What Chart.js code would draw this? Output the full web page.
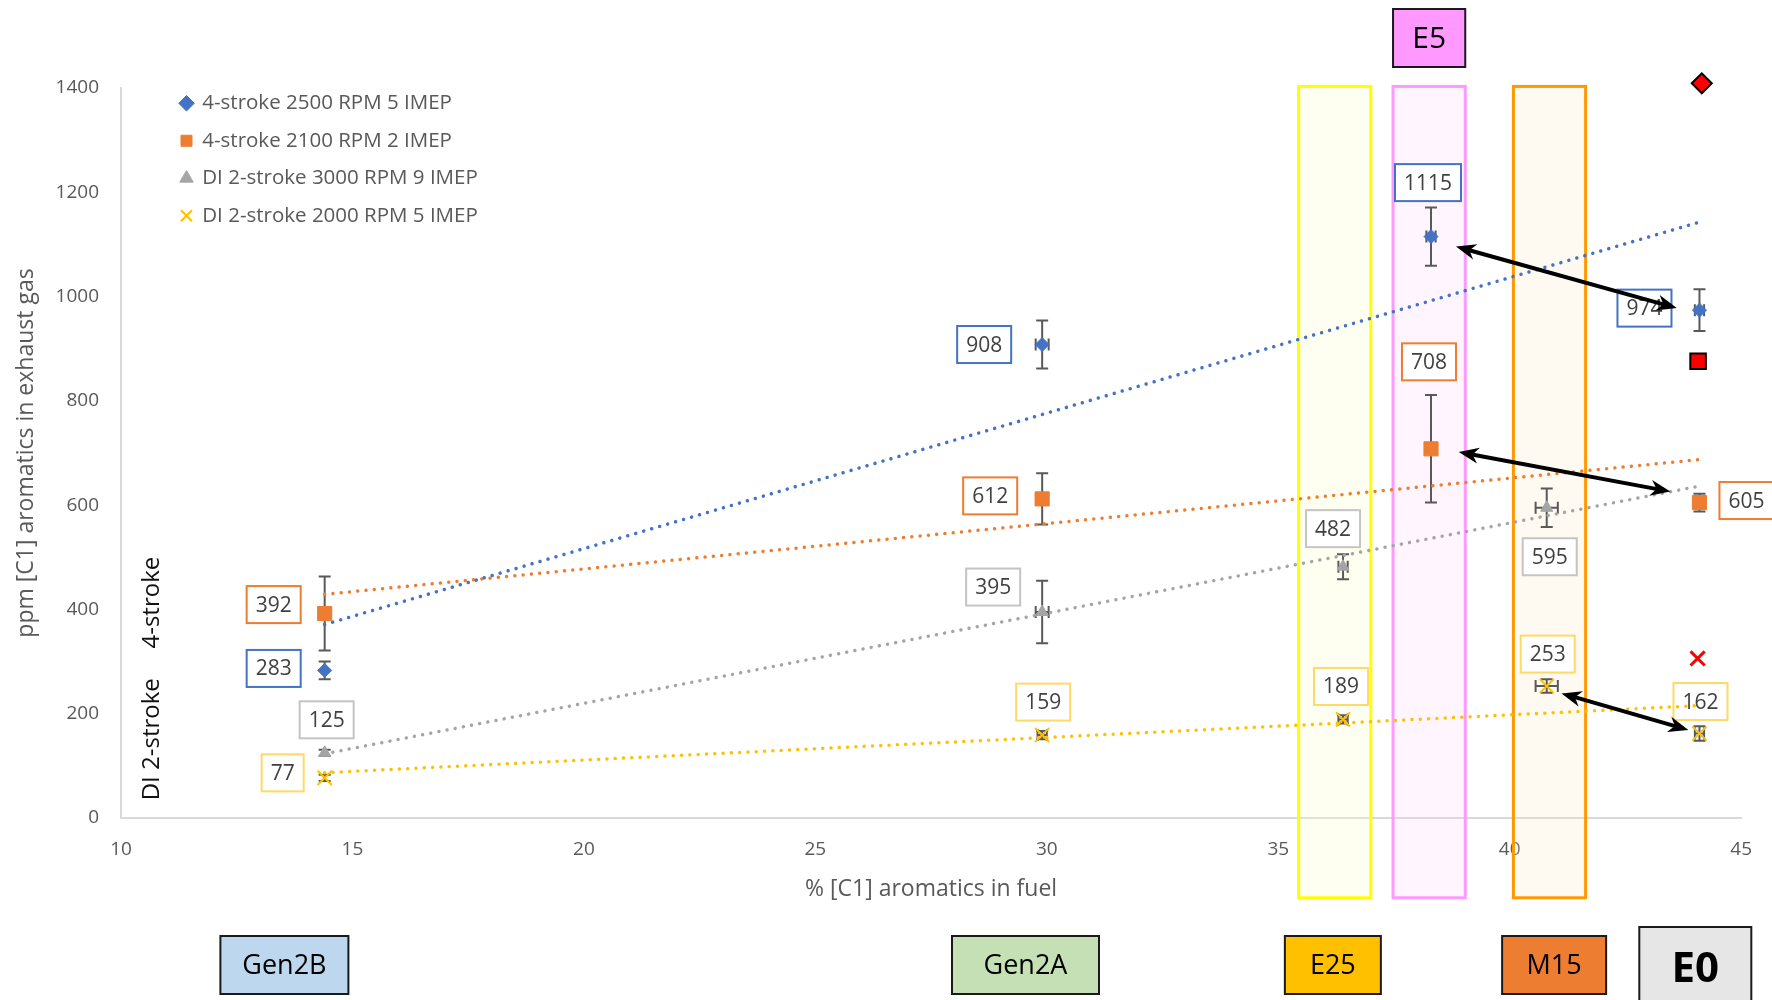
<!DOCTYPE html>
<html>
<head>
<meta charset="utf-8">
<script src="https://cdn.jsdelivr.net/npm/chart.js@4.4.1/dist/chart.umd.min.js"></script>
<style>
  html, body { margin: 0; padding: 0; background: #fff; }
  #wrap { width: 1772px; height: 1000px; }
</style>
</head>
<body>
<div id="wrap"><canvas id="aromaticsChart" width="1772" height="1000"></canvas></div>
<script>
const seriesLabels = ['4-stroke 2500 RPM 5 IMEP', '4-stroke 2100 RPM 2 IMEP', 'DI 2-stroke 3000 RPM 9 IMEP', 'DI 2-stroke 2000 RPM 5 IMEP'];

// % aromatics in fuel, ppm in exhaust, +/- error (y), +/- error (x)
const rpm2500X = [14.4, 29.9, 38.3, 44.1];
const rpm2500Ppm = [283, 908, 1115, 974];
const rpm2500Err = [17, 46, 56, 40];
const rpm2500XErr = [0, 0.14, 0.1, 0.1];

const rpm2100X = [14.4, 29.9, 38.3, 44.1];
const rpm2100Ppm = [392, 612, 708, 605];
const rpm2100Err = [71, 49, 103, 17];
const rpm2100XErr = [0, 0.1, 0.1, 0.1];

const di3000X = [14.4, 29.9, 36.4, 40.8];
const di3000Ppm = [125, 395, 482, 595];
const di3000Err = [6, 60, 24, 37];
const di3000XErr = [0, 0.14, 0.1, 0.24];

const di2000X = [14.4, 29.9, 36.4, 40.8, 44.1];
const di2000Ppm = [77, 159, 189, 253, 162];
const di2000Err = [6, 8, 8, 13, 14];
const di2000XErr = [0, 0.1, 0.1, 0.24, 0.1];

// E0 reference markers (red)
const e0RefX = [44.15, 44.07, 44.06];
const e0RefPpm = [1409, 876, 306];

const trendFromX = 14.4;
const trendToX = 44.1;

// fuel bands / tags
const bandFromX = [35.44, 37.48, 40.08];
const bandToX = [37.0, 39.04, 41.64];
const bandTopPpm = 1403;
const bandBottomPpm = -153;
const fuelTags = ['Gen2B', 'Gen2A', 'E25', 'M15', 'E0'];
const fuelTagX = [13.53, 29.54, 36.18, 40.96, 44.01];
const topTag = 'E5';
const topTagX = 38.26;

const strokeGroups = ['4-stroke', 'DI 2-stroke'];
const strokeGroupPpm = [413, 151];

// arrows: [x, ppm] pairs
const arrowFrom = [[38.84, 1096], [38.9, 702], [41.12, 239]];
const arrowTo = [[43.61, 978], [43.47, 626], [43.86, 169]];

// label placement (px offset of label centre from point)
const rpm2500LabelAt = [[-51, -2], [-58, 0], [-3, -54], [-55, -2]];
const rpm2100LabelAt = [[-51, -9], [-52, -3], [-2, -87], [47, -2]];
const di3000LabelAt = [[2, -33], [-49, -25], [-10, -38], [3, 49]];
const di2000LabelAt = [[-42, -5], [1, -33], [-2, -33], [1, -32], [1, -32]];

const fontFamily = "'Open Sans', sans-serif";
const textGrey = '#595959';
const labelText = '#404040';

const series = [
  { xs: rpm2500X, ys: rpm2500Ppm, err: rpm2500Err, xErr: rpm2500XErr, at: rpm2500LabelAt, color: '#4472C4', box: '#4472C4', style: 'rectRot', radius: 7 },
  { xs: rpm2100X, ys: rpm2100Ppm, err: rpm2100Err, xErr: rpm2100XErr, at: rpm2100LabelAt, color: '#ED7D31', box: '#ED7D31', style: 'rect', radius: 10 },
  { xs: di3000X, ys: di3000Ppm, err: di3000Err, xErr: di3000XErr, at: di3000LabelAt, color: '#A5A5A5', box: '#C4C4C4', style: 'triangle', radius: 7 },
  { xs: di2000X, ys: di2000Ppm, err: di2000Err, xErr: di2000XErr, at: di2000LabelAt, color: '#FFC000', box: '#FFD966', style: 'crossRot', radius: 10 }
];

function fitLine(xs, ys) {
  const n = xs.length;
  const mx = xs.reduce((a, b) => a + b, 0) / n;
  const my = ys.reduce((a, b) => a + b, 0) / n;
  let sxy = 0, sxx = 0;
  xs.forEach((x, i) => { sxy += (x - mx) * (ys[i] - my); sxx += (x - mx) * (x - mx); });
  const m = sxy / sxx;
  return [trendFromX, trendToX].map(x => ({ x, y: my + m * (x - mx) }));
}

const pointSets = series.map((s, k) => ({
  label: seriesLabels[k],
  data: s.xs.map((x, i) => ({ x, y: s.ys[i] })),
  showLine: false,
  clip: false,
  pointStyle: s.style,
  pointRadius: s.radius,
  pointBackgroundColor: s.color,
  pointBorderColor: s.color,
  pointBorderWidth: s.style === 'crossRot' ? 2 : 1,
  backgroundColor: s.color,
  borderColor: s.color,
  borderWidth: s.style === 'crossRot' ? 2 : 1
}));

const refStyles = [
  { style: 'rectRot', radius: 10, fill: '#FF0000', border: '#000000', width: 2 },
  { style: 'rect', radius: 11, fill: '#FF0000', border: '#000000', width: 2 },
  { style: 'crossRot', radius: 10, fill: '#FF0000', border: '#FF0000', width: 3 }
];
const refSets = e0RefX.map((x, i) => ({
  label: 'E0 ref ' + i,
  data: [{ x, y: e0RefPpm[i] }],
  showLine: false,
  clip: false,
  pointStyle: refStyles[i].style,
  pointRadius: refStyles[i].radius,
  pointBackgroundColor: refStyles[i].fill,
  pointBorderColor: refStyles[i].border,
  pointBorderWidth: refStyles[i].width
}));

const trendSets = series.map((s, k) => ({
  label: seriesLabels[k] + ' trend',
  data: fitLine(s.xs, s.ys),
  showLine: true,
  clip: false,
  borderColor: s.color,
  borderWidth: 3.5,
  borderDash: [0.01, 8.3],
  borderCapStyle: 'round',
  pointRadius: 0
}));

const bandStyles = [
  { line: '#FFFF00', fill: 'rgba(255,255,200,0.25)' },
  { line: '#FF99FF', fill: 'rgba(255,200,255,0.18)' },
  { line: '#FF9900', fill: 'rgba(255,230,190,0.22)' }
];
const tagStyles = [
  { fill: '#BDD7EE', w: 128, font: '27px ' + fontFamily },
  { fill: '#C5E0B4', w: 147, font: '27px ' + fontFamily },
  { fill: '#FFC000', w: 96, font: '27px ' + fontFamily },
  { fill: '#ED7D31', w: 104, font: '27px ' + fontFamily },
  { fill: '#E7E6E6', w: 112, font: 'bold 42px ' + fontFamily }
];

const fuelBands = {
  id: 'fuelBands',
  beforeDatasetsDraw(chart) {
    const { ctx, scales: { x, y } } = chart;
    ctx.save();
    bandFromX.forEach((from, i) => {
      const l = x.getPixelForValue(from), r = x.getPixelForValue(bandToX[i]);
      const t = y.getPixelForValue(bandTopPpm), b = y.getPixelForValue(bandBottomPpm);
      ctx.fillStyle = bandStyles[i].fill;
      ctx.fillRect(l, t, r - l, b - t);
      ctx.strokeStyle = bandStyles[i].line;
      ctx.lineWidth = 3;
      ctx.strokeRect(l, t, r - l, b - t);
    });
    ctx.restore();
  }
};

const valueLabels = {
  id: 'valueLabels',
  beforeDatasetsDraw(chart) {
    const { ctx, scales: { x, y } } = chart;
    ctx.save();
    ctx.font = '21px ' + fontFamily;
    ctx.textAlign = 'center';
    ctx.textBaseline = 'middle';
    series.forEach(s => s.ys.forEach((v, i) => {
      const cx = x.getPixelForValue(s.xs[i]) + s.at[i][0];
      const cy = y.getPixelForValue(v) + s.at[i][1];
      const text = String(v);
      const w = ctx.measureText(text).width + 18, h = 37;
      ctx.fillStyle = '#ffffff';
      ctx.fillRect(cx - w / 2, cy - h / 2, w, h);
      ctx.strokeStyle = s.box;
      ctx.lineWidth = 2;
      ctx.strokeRect(cx - w / 2, cy - h / 2, w, h);
      ctx.fillStyle = labelText;
      ctx.fillText(text, cx, cy + 1);
    }));
    ctx.restore();
  }
};

const errorBars = {
  id: 'errorBars',
  beforeDatasetsDraw(chart) {
    const { ctx, scales: { x, y } } = chart;
    const cap = 6;
    ctx.save();
    ctx.strokeStyle = '#595959';
    ctx.lineWidth = 2;
    series.forEach(s => s.ys.forEach((v, i) => {
      const px = x.getPixelForValue(s.xs[i]), py = y.getPixelForValue(v);
      const top = y.getPixelForValue(v + s.err[i]), bot = y.getPixelForValue(v - s.err[i]);
      ctx.beginPath();
      ctx.moveTo(px, top); ctx.lineTo(px, bot);
      ctx.moveTo(px - cap, top); ctx.lineTo(px + cap, top);
      ctx.moveTo(px - cap, bot); ctx.lineTo(px + cap, bot);
      if (s.xErr[i]) {
        const l = x.getPixelForValue(s.xs[i] - s.xErr[i]), r = x.getPixelForValue(s.xs[i] + s.xErr[i]);
        ctx.moveTo(l, py); ctx.lineTo(r, py);
        ctx.moveTo(l, py - cap); ctx.lineTo(l, py + cap);
        ctx.moveTo(r, py - cap); ctx.lineTo(r, py + cap);
      }
      ctx.stroke();
    }));
    ctx.restore();
  }
};

function arrowHead(ctx, tx, ty, a) {
  const len = 20, half = 8;
  const c = Math.cos(a), s = Math.sin(a);
  ctx.beginPath();
  ctx.moveTo(tx, ty);
  ctx.lineTo(tx - len * c + half * s, ty - len * s - half * c);
  ctx.lineTo(tx - len * 0.7 * c, ty - len * 0.7 * s);
  ctx.lineTo(tx - len * c - half * s, ty - len * s + half * c);
  ctx.closePath();
  ctx.fill();
}

const arrows = {
  id: 'arrows',
  afterDatasetsDraw(chart) {
    const { ctx, scales: { x, y } } = chart;
    ctx.save();
    ctx.strokeStyle = '#000';
    ctx.fillStyle = '#000';
    ctx.lineWidth = 4;
    arrowFrom.forEach((p, i) => {
      const x1 = x.getPixelForValue(p[0]), y1 = y.getPixelForValue(p[1]);
      const x2 = x.getPixelForValue(arrowTo[i][0]), y2 = y.getPixelForValue(arrowTo[i][1]);
      const a = Math.atan2(y2 - y1, x2 - x1);
      ctx.beginPath();
      ctx.moveTo(x1 + 12 * Math.cos(a), y1 + 12 * Math.sin(a));
      ctx.lineTo(x2 - 12 * Math.cos(a), y2 - 12 * Math.sin(a));
      ctx.stroke();
      arrowHead(ctx, x2, y2, a);
      arrowHead(ctx, x1, y1, a + Math.PI);
    });
    ctx.restore();
  }
};

function drawTag(ctx, cx, top, w, h, fill, text, font) {
  ctx.fillStyle = fill;
  ctx.fillRect(cx - w / 2, top, w, h);
  ctx.strokeStyle = '#1a1a1a';
  ctx.lineWidth = 2;
  ctx.strokeRect(cx - w / 2, top, w, h);
  ctx.fillStyle = '#000';
  ctx.font = font;
  ctx.textAlign = 'center';
  ctx.textBaseline = 'middle';
  ctx.fillText(text, cx, top + h / 2 + 1);
}

const fuelTagsPlugin = {
  id: 'fuelTags',
  afterDraw(chart) {
    const { ctx, scales: { x, y }, chartArea } = chart;
    ctx.save();
    fuelTags.forEach((name, i) => {
      const st = tagStyles[i];
      const isE0 = name === 'E0';
      drawTag(ctx, x.getPixelForValue(fuelTagX[i]), isE0 ? 927 : 936, st.w, isE0 ? 84 : 58, st.fill, name, st.font);
    });
    const l = x.getPixelForValue(bandFromX[1]), r = x.getPixelForValue(bandToX[1]);
    drawTag(ctx, x.getPixelForValue(topTagX), 9, r - l, 58, '#FF99FF', topTag, '30px ' + fontFamily);

    ctx.fillStyle = '#111';
    ctx.font = '24px ' + fontFamily;
    ctx.textAlign = 'center';
    ctx.textBaseline = 'middle';
    strokeGroups.forEach((txt, i) => {
      ctx.save();
      ctx.translate(chartArea.left + 31, y.getPixelForValue(strokeGroupPpm[i]));
      ctx.rotate(-Math.PI / 2);
      ctx.fillText(txt, 0, 0);
      ctx.restore();
    });
    ctx.restore();
  }
};

// legend sits inside the plot, a little in from the y axis
const legendShift = {
  id: 'legendShift',
  afterLayout(chart) {
    chart.legend.left = chart.chartArea.left + 43;
    chart.legend.top = chart.chartArea.top - 12;
  }
};

new Chart(document.getElementById('aromaticsChart'), {
  type: 'scatter',
  data: { datasets: [...pointSets, ...refSets, ...trendSets] },
  options: {
    responsive: false,
    animation: false,
    devicePixelRatio: 1,
    font: { family: fontFamily },
    layout: { padding: { top: 88, right: 26, bottom: 0, left: 0 } },
    scales: {
      x: {
        type: 'linear',
        min: 10,
        max: 45,
        ticks: { stepSize: 5, color: textGrey, font: { family: fontFamily, size: 19 }, padding: 20 },
        grid: { display: false, drawTicks: false },
        border: { color: '#D9D9D9', width: 2 },
        title: { display: true, text: '% [C1] aromatics in fuel', color: textGrey, font: { family: fontFamily, size: 23 }, padding: { top: 0, bottom: 97 } },
        afterFit(scale) { scale.height = 182; }
      },
      y: {
        min: 0,
        max: 1400,
        ticks: { stepSize: 200, color: textGrey, font: { family: fontFamily, size: 19 }, padding: 22, callback: v => String(v) },
        grid: { display: false, drawTicks: false },
        border: { color: '#D9D9D9', width: 2 },
        title: { display: true, text: 'ppm [C1] aromatics in exhaust gas', color: textGrey, font: { family: fontFamily, size: 23 }, padding: { top: 13, bottom: 0 } },
        afterFit(scale) { scale.width = 121; }
      }
    },
    plugins: {
      tooltip: { enabled: false },
      legend: {
        position: 'chartArea',
        align: 'start',
        labels: {
          usePointStyle: true,
          boxWidth: 11,
          boxHeight: 11,
          padding: 17,
          color: textGrey,
          font: { family: fontFamily, size: 20.5 },
          filter: item => item.datasetIndex < 4
        }
      }
    }
  },
  plugins: [fuelBands, valueLabels, errorBars, arrows, fuelTagsPlugin, legendShift]
});
</script>
</body>
</html>
